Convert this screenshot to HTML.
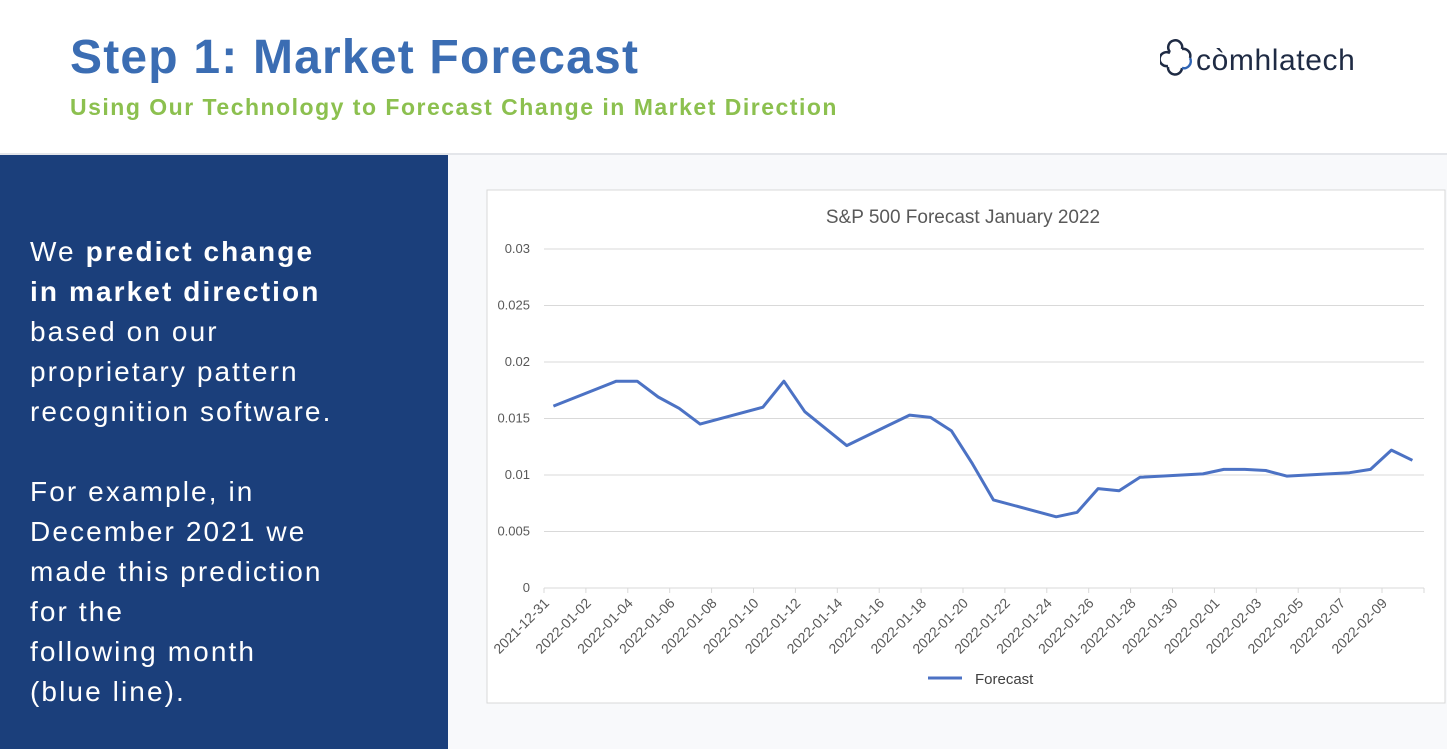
<!DOCTYPE html>
<html><head><meta charset="utf-8"><style>
body{margin:0;width:1447px;height:749px;overflow:hidden;background:#fff;font-family:"Liberation Sans",sans-serif;position:relative}
#title{position:absolute;left:70px;top:30px;font-size:48px;letter-spacing:1.2px;font-weight:bold;color:#3b6db3;margin:0}
#sub{position:absolute;left:70px;top:94px;font-size:23px;letter-spacing:1.5px;font-weight:bold;color:#8cc04f;margin:0}
#logo{position:absolute;left:1160px;top:38px;font-size:30px;letter-spacing:0.6px;color:#1f2b44}
#hdrline{position:absolute;left:0;top:153px;width:1447px;height:2px;background:#e4e6ea}
#panel{position:absolute;left:0;top:155px;width:448px;height:594px;background:#1b3f7b;color:#fff}
#txt{position:absolute;left:30px;top:77px;font-size:28px;line-height:40px;letter-spacing:2.1px;width:418px;white-space:nowrap}
#right{position:absolute;left:448px;top:155px;width:999px;height:594px;background:#f8f9fb}
</style></head><body>
<h1 id="title">Step 1: Market Forecast</h1>
<p id="sub">Using Our Technology to Forecast Change in Market Direction</p>
<div id="logo"><svg width="36" height="40" viewBox="0 0 36 40" style="vertical-align:-8px"><g fill="none" stroke="#1f2b44" stroke-width="2.5"><path d="M10 14a7 7 0 1 1 12-3"/><path d="M8 28a7 7 0 1 1 2-13"/><path d="M22 30a7 7 0 0 1-14-1"/><path d="M30 20a7 7 0 0 1-8 10" stroke="#2f64b5"/><path d="M22 11a7 7 0 0 1 8 9"/></g></svg>còmhlatech</div>
<div id="hdrline"></div>
<div id="panel">
<div id="txt">We <b>predict change</b><br><b>in market direction</b><br>based on our<br>proprietary pattern<br>recognition software.<br><br>For example, in<br>December 2021 we<br>made this prediction<br>for the<br>following month<br>(blue line).</div>
</div>
<div id="right"></div>
<svg id="chart" width="1447" height="749" style="position:absolute;left:0;top:0"></svg>
<script>
const dayOffsets=[0,3,4,5,6,7,10,11,12,13,14,17,18,19,20,21,24,25,26,27,28,31,32,33,34,35,38,39,40,41];
const forecastValues=[0.0161,0.0183,0.0183,0.0169,0.0159,0.0145,0.0160,0.0183,0.0156,0.0141,0.0126,0.0153,0.0151,0.0139,0.0110,0.0078,0.0063,0.0067,0.0088,0.0086,0.0098,0.0101,0.0105,0.0105,0.0104,0.0099,0.0102,0.0105,0.0122,0.0113];
const yTicks=[0,0.005,0.01,0.015,0.02,0.025,0.03];
const yTickLabels=["0","0.005","0.01","0.015","0.02","0.025","0.03"];
const xTickLabels=["2021-12-31","2022-01-02","2022-01-04","2022-01-06","2022-01-08","2022-01-10","2022-01-12","2022-01-14","2022-01-16","2022-01-18","2022-01-20","2022-01-22","2022-01-24","2022-01-26","2022-01-28","2022-01-30","2022-02-01","2022-02-03","2022-02-05","2022-02-07","2022-02-09"];
const NS="http://www.w3.org/2000/svg";
const svg=document.getElementById('chart');
const x0=544,dayW=20.95,y0=588,yPer=11300;
function xDay(d){return x0+d*dayW;}
function xPt(d){return x0+(d+0.45)*dayW;}
function yScale(v){return y0-v*yPer;}
function mk(t,a){const e=document.createElementNS(NS,t);for(const k in a)e.setAttribute(k,a[k]);svg.appendChild(e);return e;}
const box=mk('rect',{x:487,y:190,width:958,height:513,fill:'#fff',stroke:'#d9d9d9'});


const tt=mk('text',{x:963,y:223,'text-anchor':'middle','font-size':19,fill:'#595959'});
tt.textContent='S&P 500 Forecast January 2022';


yTicks.forEach((v,i)=>{
 const y=yScale(v);
 const g=mk('line',{x1:x0,x2:1424,y1:y,y2:y,stroke:'#d9d9d9','stroke-width':1});
 
 
 const t=mk('text',{x:530,y:y+4,'text-anchor':'end','font-size':13,fill:'#595959'});
 t.textContent=yTickLabels[i];
 
 
});
xTickLabels.forEach((l,i)=>{
 const x=xDay(i*2);
 const tk=mk('line',{x1:x,x2:x,y1:y0,y2:y0+5,stroke:'#d9d9d9'});
 
 
 const t=mk('text',{x:x+6,y:y0+16,'text-anchor':'end','font-size':14,fill:'#595959',transform:`rotate(-45 ${x+6} ${y0+16})`});
 t.textContent=l;
 
 
});
const lt=mk('line',{x1:1424,x2:1424,y1:y0,y2:y0+5,stroke:'#d9d9d9'});
const pts=dayOffsets.map((d,i)=>xPt(d).toFixed(1)+','+yScale(forecastValues[i]).toFixed(1)).join(' ');
const line=mk('polyline',{points:pts,fill:'none',stroke:'#4c72c4','stroke-width':3,'stroke-linejoin':'round'});


const ll=mk('line',{x1:928,x2:962,y1:678,y2:678,stroke:'#4c72c4','stroke-width':3});


const lg=mk('text',{x:975,y:684,'font-size':15,fill:'#404040'});
lg.textContent='Forecast';


</script>
</body></html>
